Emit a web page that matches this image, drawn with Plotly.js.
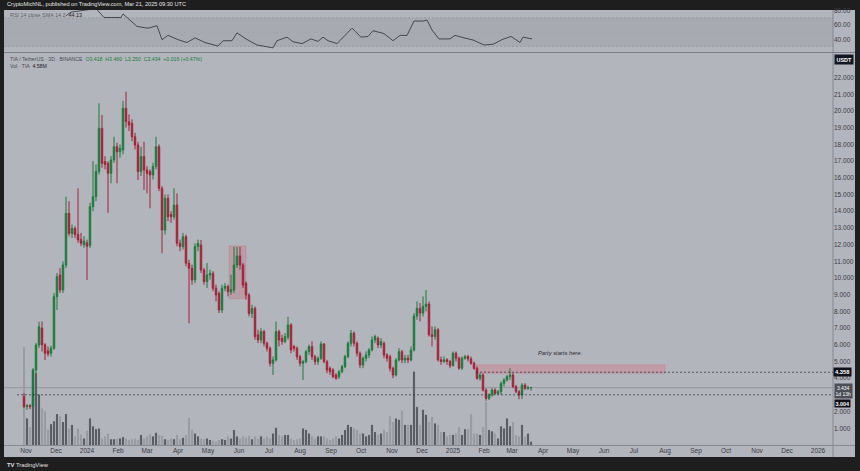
<!DOCTYPE html>
<html><head><meta charset="utf-8">
<script src="https://cdn.plot.ly/plotly-3.0.1.min.js"></script>
<style>html,body{margin:0;padding:0;background:#1e1e1e;overflow:hidden}#c{width:860px;height:471px}</style>
</head><body><div id="c"></div><script>
// ---- DATA (TIA/USDT, 3D bars from 2023-10-30) ----
const firstBar = '2023-10-30';
const opens  = [2.90,2.30,2.35,2.30,4.49,5.99,7.00,6.00,5.65,5.50,5.80,8.88,10.18,9.28,10.78,13.87,12.67,12.97,12.60,12.30,12.00,12.10,11.95,14.27,14.87,16.37,18.96,16.97,16.87,16.27,17.07,17.86,17.56,17.66,20.16,19.36,19.26,18.46,17.96,16.37,17.27,16.47,16.37,16.17,16.67,17.86,15.37,12.87,14.77,13.80,13.67,14.37,12.08,11.88,12.47,10.88,10.58,9.88,11.88,11.97,10.48,9.78,10.18,10.28,9.38,9.08,8.08,9.38,9.50,9.18,9.28,10.78,11.32,10.78,9.68,8.98,7.88,8.18,6.59,6.29,6.79,6.09,5.79,4.89,5.09,6.79,6.39,6.20,6.45,7.19,5.89,5.79,5.29,4.89,4.99,5.59,5.89,5.29,4.99,5.19,6.05,4.99,4.59,4.49,4.19,4.09,4.39,4.69,5.29,6.09,6.69,6.09,5.49,4.79,5.19,5.39,5.69,6.29,6.39,5.99,6.09,5.39,5.29,4.59,4.19,5.09,5.59,5.09,5.20,5.09,5.69,7.72,8.18,7.90,8.30,8.44,6.60,6.50,6.90,5.10,5.00,5.10,5.00,4.75,5.50,5.20,4.60,5.20,5.30,5.15,4.89,4.59,3.99,4.19,3.29,2.79,2.99,3.29,3.09,3.19,3.69,3.89,4.09,4.19,3.49,3.19,2.99,3.59,3.39,3.418];
const highs  = [3.10,2.45,2.45,4.60,6.10,7.38,7.40,6.10,5.90,5.95,9.10,10.30,10.60,11.00,14.87,14.60,13.20,13.10,15.37,12.70,12.50,12.30,14.50,17.00,16.80,20.46,19.76,17.30,17.00,17.30,18.46,18.10,18.00,20.60,21.16,19.80,19.50,18.70,18.16,17.86,18.16,16.70,16.50,16.90,18.46,18.00,15.50,15.00,15.00,14.00,15.37,15.07,12.30,12.70,12.60,11.10,10.80,12.08,12.30,12.28,10.60,10.90,10.50,10.40,9.60,9.20,9.60,9.70,9.60,10.20,11.87,11.87,11.87,10.90,9.80,9.10,8.40,8.30,6.90,7.00,6.90,6.20,5.90,5.30,7.39,6.90,6.60,6.70,7.68,7.30,6.00,5.90,5.40,5.10,5.70,6.00,6.20,5.40,5.30,6.20,6.10,5.10,4.70,4.60,4.30,4.50,4.80,5.40,6.20,6.89,6.80,6.20,5.60,5.30,5.60,5.80,6.50,6.60,6.50,6.40,6.20,5.50,5.40,4.70,5.20,5.80,5.70,5.40,5.40,5.90,7.90,8.60,8.50,8.90,9.28,8.60,7.10,7.10,7.00,5.30,5.30,5.20,5.10,5.60,5.60,5.30,5.30,5.40,5.40,5.30,5.00,4.70,4.30,4.30,3.40,3.10,3.40,3.40,3.30,3.80,4.00,4.20,4.59,4.30,3.60,3.30,3.70,3.70,3.55,3.460];
const lows   = [2.20,2.10,2.15,2.25,4.30,5.80,5.60,5.09,5.30,5.30,5.70,8.08,9.10,9.10,10.60,12.50,12.40,12.40,12.10,11.90,11.80,9.88,11.80,14.00,14.60,16.20,16.60,16.50,13.90,15.67,16.90,15.67,17.20,17.40,19.00,18.80,18.20,17.70,15.87,16.10,15.27,15.07,14.17,15.90,16.50,15.20,11.48,12.60,13.40,13.30,13.50,11.90,11.60,11.70,10.70,7.29,9.60,9.70,11.60,10.30,9.60,9.40,9.90,9.20,8.60,7.90,7.90,9.20,8.90,9.00,9.10,10.60,10.50,9.40,8.70,7.70,7.60,6.30,6.10,6.10,5.90,5.60,4.70,4.19,5.00,5.90,6.00,6.10,6.30,5.50,5.60,5.10,4.70,3.89,4.90,5.40,5.10,4.80,4.80,5.10,4.90,4.30,4.20,4.00,3.90,3.95,4.30,4.60,5.20,5.90,5.90,5.30,4.60,4.60,5.00,5.20,5.60,6.10,5.80,5.80,5.20,5.00,4.40,4.00,4.10,5.00,4.90,4.90,4.90,5.00,5.60,7.50,7.40,7.70,8.00,6.50,5.90,6.30,5.00,4.80,4.90,4.80,4.60,4.70,5.00,4.50,4.50,5.10,5.00,4.80,4.50,3.90,3.85,3.20,2.65,2.70,2.90,3.00,3.00,3.00,3.50,3.80,3.90,3.40,3.10,2.74,2.75,3.30,3.30,3.250];
const closes = [2.30,2.35,2.30,4.49,5.99,7.08,6.00,5.50,5.45,5.80,8.88,10.08,9.28,10.78,13.87,12.67,12.97,12.60,12.28,12.08,12.20,11.90,14.27,14.87,16.37,18.96,16.87,16.80,16.27,17.07,17.86,17.56,17.76,20.16,19.36,19.16,18.46,17.96,16.37,17.27,16.47,16.27,16.17,16.67,17.86,15.37,12.87,14.77,13.67,13.67,14.37,12.08,11.88,12.47,10.88,10.58,9.88,11.88,12.08,10.48,9.78,10.18,10.28,9.38,8.98,8.08,9.38,9.50,9.18,9.30,10.78,11.32,10.78,9.58,8.98,7.88,8.18,6.49,6.29,6.79,6.09,5.79,4.89,5.09,6.79,6.29,6.20,6.50,7.19,5.69,5.79,5.29,4.89,4.99,5.59,5.89,5.29,4.99,5.19,6.05,4.99,4.49,4.39,4.09,3.99,4.39,4.69,5.29,6.09,6.69,6.09,5.49,4.79,5.19,5.39,5.69,6.29,6.49,5.99,6.19,5.39,5.19,4.59,4.19,5.09,5.59,5.09,5.20,5.09,5.69,7.72,8.18,7.90,8.30,8.44,6.60,6.50,6.90,5.10,5.00,5.10,5.00,4.75,5.50,5.20,4.60,5.20,5.30,5.15,4.89,4.59,3.99,4.19,3.29,2.79,2.99,3.29,3.09,3.19,3.69,3.89,4.09,4.19,3.49,3.19,2.99,3.59,3.39,3.42,3.434];
const volumesM = [136,37,25,105,100,70,51,47,21,29,33,43,40,32,43,23,28,12,23,14,9,20,37,26,22,23,9,12,16,8,8,9,9,11,9,7,8,9,7,14,9,12,15,12,17,14,13,8,7,9,8,14,8,10,14,38,21,16,12,9,8,9,7,6,5,7,8,7,12,9,21,12,9,12,10,13,8,12,9,12,9,12,9,16,24,14,12,14,14,9,7,8,9,23,21,16,12,9,12,12,12,9,7,9,12,9,14,21,28,25,23,21,16,16,12,14,28,18,14,16,21,18,40,32,37,35,48,28,28,28,102,53,28,49,42,32,39,30,28,18,18,12,14,14,16,25,14,22,22,43,16,16,14,25,60,21,19,16,9,26,23,37,26,32,14,12,28,12,16,4.58];
const rsiDates  = ['2023-12-11','2023-12-16','2024-01-10','2024-01-18','2024-02-04','2024-02-06','2024-02-20','2024-03-02','2024-03-11','2024-03-16','2024-03-22','2024-04-01','2024-04-10','2024-04-18','2024-04-28','2024-05-11','2024-05-16','2024-05-25','2024-05-30','2024-06-08','2024-06-19','2024-07-05','2024-07-09','2024-07-19','2024-07-25','2024-08-03','2024-08-12','2024-08-19','2024-08-24','2024-08-29','2024-09-07','2024-09-22','2024-10-01','2024-10-08','2024-10-13','2024-10-24','2024-11-02','2024-11-09','2024-11-16','2024-11-23','2024-12-02','2024-12-06','2024-12-11','2024-12-18','2024-12-29','2025-01-03','2025-01-12','2025-01-21','2025-02-01','2025-02-10','2025-02-19','2025-02-28','2025-03-09','2025-03-12','2025-03-21'];
const rsiValues = [73,78,83,70.5,70.5,75.5,58,55.5,59,39.5,45.5,39.5,35.5,42,35.5,30.5,38,38,49,40.5,32,28,38,43,36.5,34,40.5,37,43,38,34,55.5,43,44,52,48,38,45.5,45.5,65.5,65.5,67,53,40.5,40.5,45.5,42,39,32,33,39.5,44,35.5,43,40.5];
const priceTicks = [1,2,3,4,5,6,7,8,9,10,11,12,13,14,15,16,17,18,19,20,21,22];
const rsiTicks = [40,60,80];
const monthTicks = ['2023-11-01','2023-12-01','2024-01-01','2024-02-01','2024-03-01','2024-04-01','2024-05-01','2024-06-01','2024-07-01','2024-08-01','2024-09-01','2024-10-01','2024-11-01','2024-12-01','2025-01-01','2025-02-01','2025-03-01','2025-04-01','2025-05-01','2025-06-01','2025-07-01','2025-08-01','2025-09-01','2025-10-01','2025-11-01','2025-12-01','2026-01-01'];
const monthLabels = ['Nov','Dec','2024','Feb','Mar','Apr','May','Jun','Jul','Aug','Sep','Oct','Nov','Dec','2025','Feb','Mar','Apr','May','Jun','Jul','Aug','Sep','Oct','Nov','Dec','2026'];
const levelHigh = 4.358, levelLow = 3.004, lastPrice = 3.434;
const zoneParty = {from:'2025-01-24', to:'2025-08-01', lo:4.30, hi:4.80};
const zoneMay = {from:'2024-05-22', to:'2024-06-08', lo:8.76, hi:11.92};

// ---- build ----
const DAY = 86400000;
const t0 = Date.parse(firstBar + 'T00:00:00Z');
const dates = opens.map((_, i) => new Date(t0 + i * 3 * DAY).toISOString().slice(0, 10));
const UP = '#1c7a3b', DN = '#a02338';
const volColors = opens.map((o, i) => closes[i] >= o ? '#5b5d64' : '#9a9ca4');

// pixel helpers (plot area: x 4..833, y 10..445)
const L = 4, T = 10, PW = 829, PH = 435;
const px = v => (v - L) / PW;
const py = v => (T + PH - v) / PH;
const FONT = 'Liberation Sans, Arial, sans-serif';

const traces = [
  {type:'bar', x:dates, y:volumesM, xaxis:'x', yaxis:'y', width:2.1*DAY,
   marker:{color:volColors, line:{width:0}}, hoverinfo:'skip'},
  {type:'candlestick', x:dates, open:opens, high:highs, low:lows, close:closes, xaxis:'x', yaxis:'y2',
   increasing:{line:{color:UP, width:1}, fillcolor:UP},
   decreasing:{line:{color:DN, width:1}, fillcolor:DN}, whiskerwidth:0, hoverinfo:'skip'},
  {type:'scatter', mode:'lines', x:rsiDates, y:rsiValues, xaxis:'x2', yaxis:'y3',
   line:{color:'#2c2e35', width:0.8}, hoverinfo:'skip'}
];

const tickFont = {family:FONT, size:6.5, color:'#3a3c43'};
const dashFine = '2px,2px';
const layout = {
  width:860, height:471, margin:{l:L, r:27, t:T, b:26},
  paper_bgcolor:'#1e1e1e', plot_bgcolor:'rgba(0,0,0,0)', showlegend:false,
  font:{family:FONT},
  xaxis:{type:'date', range:['2023-10-10','2026-01-16'], domain:[0,1], anchor:'y',
    tickvals:monthTicks, ticktext:monthLabels, ticks:'', showgrid:false, zeroline:false, showline:false,
    tickfont:tickFont, rangeslider:{visible:false}, fixedrange:true},
  yaxis:{domain:[0, 392/PH], range:[0,545], visible:false, fixedrange:true},
  yaxis2:{overlaying:'y', side:'right', anchor:'x', range:[0, 392/16.7], tickvals:priceTicks,
    tickformat:'.3f', ticks:'', showgrid:false, zeroline:false, showline:false, tickfont:tickFont, fixedrange:true},
  xaxis2:{type:'date', matches:'x', anchor:'y3', visible:false},
  yaxis3:{domain:[(445-52)/PH, 1], range:[22.2, 81], side:'right', anchor:'x2', tickvals:rsiTicks,
    tickformat:'.2f', ticks:'', showgrid:false, zeroline:false, showline:false, tickfont:tickFont, fixedrange:true},
  shapes:[
    {type:'rect', xref:'paper', yref:'paper', x0:0, x1:px(855), y0:py(457), y1:1, fillcolor:'#b3b5bc', line:{width:0}, layer:'below'},
    {type:'rect', xref:'paper', yref:'y3', x0:0, x1:1, y0:30, y1:70, fillcolor:'#a8aab2', line:{width:0}, layer:'below'},
    {type:'line', xref:'paper', yref:'y3', x0:0, x1:1, y0:70, y1:70, line:{color:'#8d8f97', width:0.6, dash:dashFine}, layer:'below'},
    {type:'line', xref:'paper', yref:'y3', x0:0, x1:1, y0:50, y1:50, line:{color:'#9a9ca4', width:0.5, dash:dashFine}, layer:'below'},
    {type:'line', xref:'paper', yref:'y3', x0:0, x1:1, y0:30, y1:30, line:{color:'#8d8f97', width:0.6, dash:dashFine}, layer:'below'},
    {type:'line', xref:'paper', yref:'paper', x0:0, x1:px(855), y0:py(52.5), y1:py(52.5), line:{color:'#7c7f87', width:1}},
    {type:'line', xref:'paper', yref:'paper', x0:1, x1:1, y0:py(457), y1:1, line:{color:'#7c7f87', width:0.8}},
    {type:'line', xref:'paper', yref:'paper', x0:0, x1:px(855), y0:py(445.5), y1:py(445.5), line:{color:'#7c7f87', width:0.8}},
    {type:'rect', xref:'x', yref:'y2', x0:zoneMay.from, x1:zoneMay.to, y0:zoneMay.lo, y1:zoneMay.hi, fillcolor:'rgba(200,100,115,0.30)', line:{color:'rgba(190,110,120,0.5)', width:0.6}, layer:'below'},
    {type:'rect', xref:'x', yref:'y2', x0:zoneParty.from, x1:zoneParty.to, y0:zoneParty.lo, y1:zoneParty.hi, fillcolor:'rgba(215,110,125,0.35)', line:{color:'rgba(200,110,125,0.55)', width:0.6}, layer:'below'},
    {type:'line', xref:'paper', yref:'y2', x0:0, x1:1, y0:lastPrice, y1:lastPrice, line:{color:'#878991', width:0.7}, layer:'below'},
    {type:'line', xref:'x', yref:'y2', x0:zoneParty.from, x1:'2026-01-16', y0:levelHigh, y1:levelHigh, line:{color:'#2a2c33', width:0.7, dash:dashFine}},
    {type:'line', xref:'x', yref:'y2', x0:'2023-10-23', x1:'2026-01-16', y0:levelLow, y1:levelLow, line:{color:'#2a2c33', width:0.7, dash:dashFine}}
  ],
  annotations:[
    {xref:'paper', yref:'paper', x:px(5), y:py(4.5), xanchor:'left', yanchor:'middle', showarrow:false,
     text:'CryptoMichNL, published on TradingView.com, Mar 21, 2025 09:30 UTC', font:{size:5.6, color:'#e6e6e6'}},
    {xref:'paper', yref:'paper', x:px(8), y:py(15), xanchor:'left', yanchor:'middle', showarrow:false,
     text:'<span style="color:#5d6068">RSI 14 close SMA 14 2</span>  <span style="color:#1f2127">44.13</span>', font:{size:5.4}},
    {xref:'paper', yref:'paper', x:px(8), y:py(59), xanchor:'left', yanchor:'middle', showarrow:false,
     text:'<span style="color:#4a4c54">TIA / TetherUS · 3D · BINANCE</span>  <span style="color:#1c7a3b">O3.418  H3.460  L3.250  C3.434  +0.016 (+0.47%)</span>', font:{size:5.2}},
    {xref:'paper', yref:'paper', x:px(8), y:py(65.5), xanchor:'left', yanchor:'middle', showarrow:false,
     text:'<span style="color:#4a4c54">Vol · TIA</span>  <span style="color:#1f2127">4.58M</span>', font:{size:5.2}},
    {xref:'x', yref:'y2', x:'2025-04-18', y:5.53, xanchor:'center', yanchor:'middle', showarrow:false,
     text:'<i>Party starts here.</i>', font:{size:5.8, color:'#2a2c33'}},
    {xref:'paper', yref:'paper', x:px(844), y:py(60), xanchor:'center', yanchor:'middle', showarrow:false,
     text:'<b>USDT</b>', font:{size:5.4, color:'#ffffff'}, bgcolor:'#131722', borderpad:1.5},
    {xref:'paper', yref:'y2', x:px(843), y:levelHigh, xanchor:'center', yanchor:'middle', showarrow:false,
     text:'<b>4.358</b>', font:{size:5.8, color:'#ffffff'}, bgcolor:'#111216', borderpad:1},
    {xref:'paper', yref:'paper', x:px(843.5), y:py(391), xanchor:'center', yanchor:'middle', showarrow:false,
     text:'3.434<br>1d 13h', font:{size:5.0, color:'#ffffff'}, bgcolor:'#4b4e57', borderpad:0.5},
    {xref:'paper', yref:'paper', x:px(843), y:py(403), xanchor:'center', yanchor:'middle', showarrow:false,
     text:'<b>3.004</b>', font:{size:5.4, color:'#ffffff'}, bgcolor:'#111216', borderpad:0.5},
    {xref:'paper', yref:'paper', x:px(5), y:py(464.5), xanchor:'left', yanchor:'middle', showarrow:false,
     text:'<b>TV</b> TradingView', font:{size:5.8, color:'#e0e0e0'}}
  ]
};
Plotly.newPlot('c', traces, layout, {staticPlot:true, displayModeBar:false});
</script></body></html>
